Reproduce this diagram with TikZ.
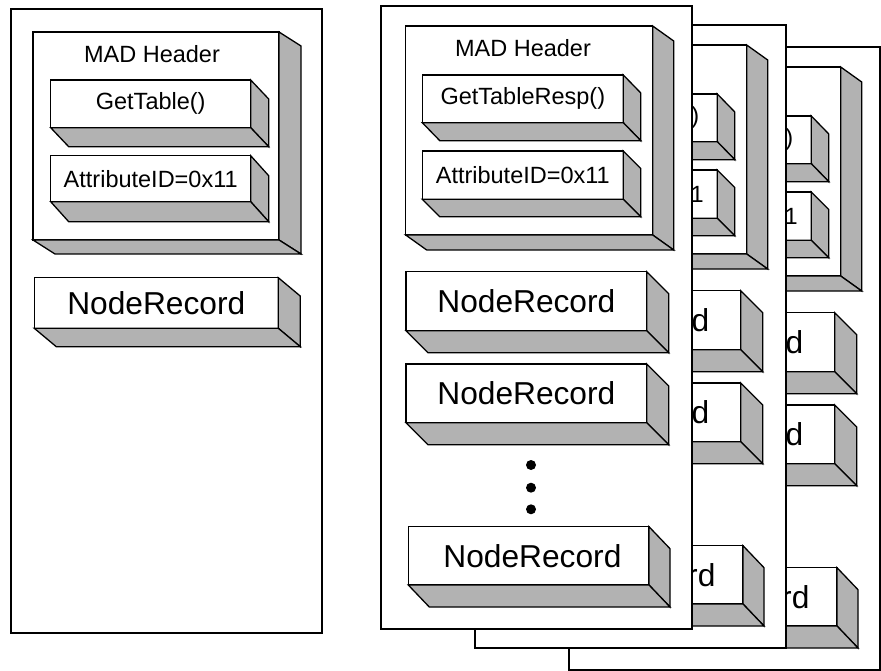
\documentclass[tikz,border=0pt]{standalone}
\usepackage{fontspec}
\setmainfont{Liberation Sans}
\usepackage{xcolor}
\usepackage{tikz}
\usetikzlibrary{positioning}
\newcommand{\smalltext}{\fontsize{23.5}{26}\selectfont}
\newcommand{\bigtext}{\fontsize{31.7}{34}\selectfont}
\tikzset{
    sheet/.style={draw, rectangle, fill=white, line width=1.8pt, anchor=north west, inner sep=0pt, outer sep=0pt},
    slab/.style={draw, rectangle, fill=white, line width=1.3pt, anchor=north west, inner sep=0pt, outer sep=0pt, align=center},
    side/.style={draw, fill=black!30, line width=1.3pt},
    dot/.style={circle, fill, inner sep=0pt, minimum size=10pt}
}
\newcommand{\sides}[3]{%
    \filldraw[side] (#1.north east) -- ++(#2,#3) -- ([shift={(#2,#3)}]#1.south east) -- (#1.south east) -- cycle;
    \filldraw[side] (#1.south west) -- ++(#2,#3) -- ([shift={(#2,#3)}]#1.south east) -- (#1.south east) -- cycle;
}
\newcommand{\resppage}[3]{%
    \node (#1page) [sheet, minimum width=311pt, minimum height=623pt] at (381+#2,6+#3) {};
    \node (#1hdr) [slab, minimum width=247pt, minimum height=209pt] at (405.7+#2,26+#3) {};
    \sides{#1hdr}{21}{15}
    \node (#1title) [anchor=base, font=\smalltext] at (523+#2,56.7+#3) {MAD Header};
    \node (#1meth) [slab, minimum width=201pt, minimum height=47.7pt, font=\smalltext] at (422.3+#2,75+#3) {GetTableResp()};
    \sides{#1meth}{17.5}{18}
    \node (#1attr) [slab, minimum width=201pt, minimum height=48.3pt, font=\smalltext] at (422.3+#2,151+#3) {AttributeID=0x11};
    \sides{#1attr}{17.5}{17.5}
    \node (#1rec1) [slab, minimum width=240.7pt, minimum height=59pt, font=\bigtext] at (406+#2,271.7+#3) {NodeRecord};
    \sides{#1rec1}{22}{22}
    \node (#1rec2) [slab, minimum width=240.7pt, minimum height=58.7pt, font=\bigtext] at (406+#2,364+#3) {NodeRecord};
    \sides{#1rec2}{22}{22}
    \node (#1dot1) [dot] at (531+#2,465+#3) {};
    \node (#1dot2) [dot] at (531+#2,487.7+#3) {};
    \node (#1dot3) [dot] at (531+#2,509.3+#3) {};
    \node (#1rec3) [slab, minimum width=240.7pt, minimum height=58.3pt,
        label={[font=\bigtext, xshift=3.8pt]center:NodeRecord}] at (408.3+#2,526.7+#3) {};
    \sides{#1rec3}{21}{22}
}

\begin{document}
\begin{tikzpicture}[x=1pt, y=-1pt]
    \useasboundingbox (0,0) rectangle (881,671);
    % request
    \node (qpage) [sheet, minimum width=311pt, minimum height=624pt] at (11,9) {};
    \node (qhdr) [slab, minimum width=246pt, minimum height=208pt] at (33,32) {};
    \sides{qhdr}{22}{14}
    \node (qtitle) [anchor=base, font=\smalltext] at (152,62.7) {MAD Header};
    \node (qmeth) [slab, minimum width=200pt, minimum height=47.7pt, font=\smalltext] at (50.7,80) {GetTable()};
    \sides{qmeth}{18}{19}
    \node (qattr) [slab, minimum width=200pt, minimum height=46pt, font=\smalltext] at (50.7,155.7) {AttributeID=0x11};
    \sides{qattr}{18}{20}
    \node (qrec) [slab, minimum width=244pt, minimum height=50.6pt, font=\bigtext] at (34.3,277.7) {NodeRecord};
    \sides{qrec}{22}{18.4}
    % responses, back to front
    \resppage{c}{188}{41}
    \resppage{b}{94}{19}
    \resppage{a}{0}{0}
\end{tikzpicture}
\end{document}
